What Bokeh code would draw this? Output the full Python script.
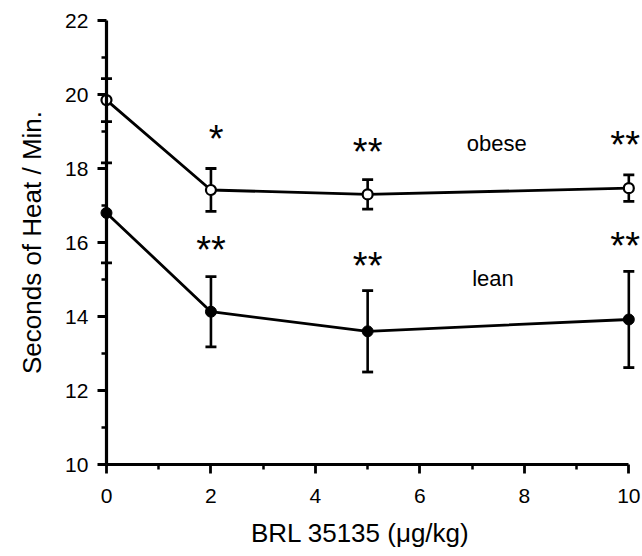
from bokeh.plotting import figure
from bokeh.models import Range1d, LinearAxis, FixedTicker, ColumnDataSource, Whisker, TeeHead
from bokeh.core.properties import value
from bokeh.embed import file_html
from bokeh.resources import INLINE

# ---- data ----
dose = [0, 2, 5, 10]
obese_mean = [19.85, 17.42, 17.30, 17.47]
obese_sem = [0.58, 0.58, 0.40, 0.36]
lean_mean = [16.80, 14.13, 13.60, 13.92]
lean_sem = [1.35, 0.95, 1.10, 1.30]

x_ticks = [0, 2, 4, 6, 8, 10]
x_minor = [1, 3, 5, 7, 9]
y_ticks = [10, 12, 14, 16, 18, 20, 22]
y_minor = [11, 13, 15, 17, 19, 21]

sig_x = [2.1, 5, 9.93, 2, 5, 9.93]
sig_y = [18.94, 18.58, 18.76, 15.92, 15.51, 16.05]
sig_text = ["*", "**", "**", "**", "**", "**"]

group_x = [7.47, 7.40]
group_y = [18.68, 15.03]
group_text = ["obese", "lean"]

x_title = "BRL  35135  (\u03bcg/kg)"
y_title = "Seconds of Heat / Min."

FONT = "Liberation Sans"

p = figure(width=642, height=556, output_backend="svg", toolbar_location=None,
           x_range=Range1d(-2.029, 10.262), y_range=Range1d(7.514, 22.541),
           x_axis_location=None, y_axis_location=None, title=None,
           min_border=0, outline_line_color=None)
p.xgrid.visible = False
p.ygrid.visible = False


def style_axis(ax):
    ax.axis_line_width = 3.2
    ax.axis_line_color = "black"
    ax.major_tick_line_width = 2.8
    ax.minor_tick_line_width = 2.5
    ax.major_tick_line_color = "black"
    ax.minor_tick_line_color = "black"
    ax.major_tick_in = 0
    ax.major_tick_out = 9
    ax.minor_tick_in = 0
    ax.minor_tick_out = 5
    ax.major_label_text_font = FONT
    ax.major_label_text_font_size = "21px"
    ax.major_label_text_color = "black"
    ax.axis_label_text_font = FONT
    ax.axis_label_text_font_size = "26px"
    ax.axis_label_text_font_style = "normal"
    ax.axis_label_text_color = "black"


xaxis = LinearAxis(fixed_location=10, bounds=(0, 10),
                   ticker=FixedTicker(ticks=x_ticks, minor_ticks=x_minor),
                   axis_label=x_title)
style_axis(xaxis)
xaxis.major_label_standoff = 15
xaxis.axis_label_standoff = 12
p.add_layout(xaxis, "below")

yaxis = LinearAxis(fixed_location=0, bounds=(10, 22),
                   ticker=FixedTicker(ticks=y_ticks, minor_ticks=y_minor),
                   axis_label=y_title)
style_axis(yaxis)
yaxis.major_label_standoff = 9
yaxis.axis_label_standoff = 15
p.add_layout(yaxis, "left")

# lines
p.line(dose, obese_mean, line_width=2.8, line_color="black")
p.line(dose, lean_mean, line_width=2.8, line_color="black")

# error bars
for mean, sem in ((obese_mean, obese_sem), (lean_mean, lean_sem)):
    src = ColumnDataSource(dict(
        x=dose,
        upper=[m + e for m, e in zip(mean, sem)],
        lower=[m - e for m, e in zip(mean, sem)],
    ))
    w = Whisker(base="x", upper="upper", lower="lower", source=src,
                line_width=2.6, line_color="black",
                upper_head=TeeHead(size=11, line_width=2.8, line_color="black"),
                lower_head=TeeHead(size=11, line_width=2.8, line_color="black"))
    p.add_layout(w)

# markers
p.scatter(dose, obese_mean, size=10, fill_color="white", line_color="black", line_width=2.2)
p.scatter(dose, lean_mean, size=11, fill_color="black", line_color="black", line_width=1)

# significance asterisks
p.text(x=sig_x, y=sig_y, text=sig_text, text_font=value(FONT), text_font_size="38px",
       text_align="center", text_baseline="alphabetic", y_offset=5, text_color="black")

# group labels
p.text(x=group_x, y=group_y, text=group_text, text_font=value(FONT), text_font_size="22px",
       text_align="center", text_baseline="middle", text_color="black")

open("out.html", "w").write(file_html(p, INLINE))
